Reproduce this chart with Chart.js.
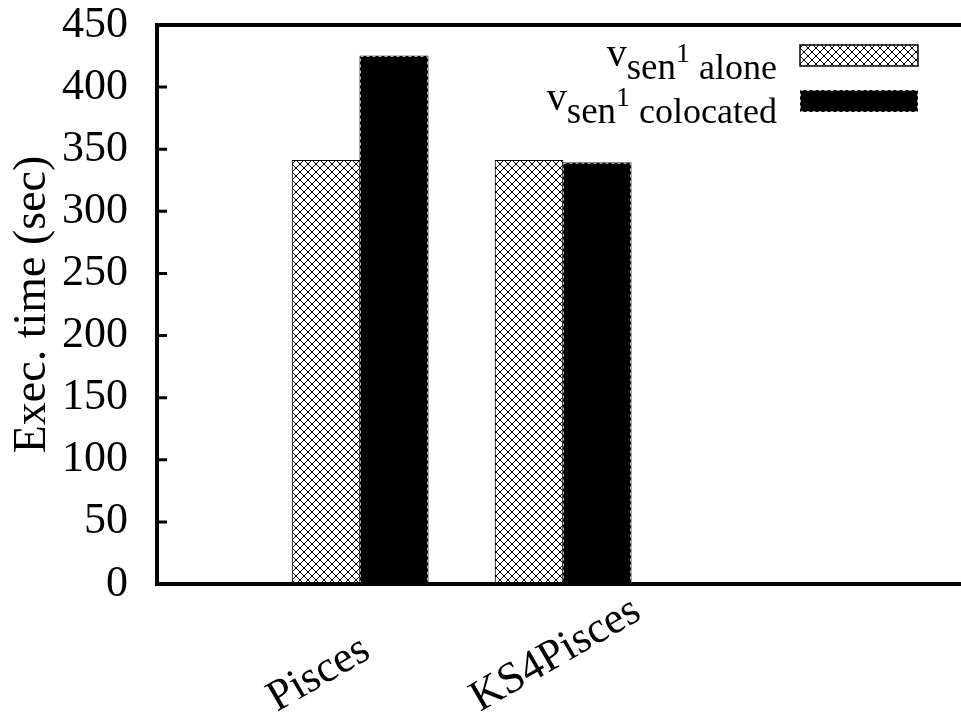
<!DOCTYPE html>
<html><head><meta charset="utf-8">
<script src="https://cdn.jsdelivr.net/npm/chart.js@4/dist/chart.umd.min.js"></script>
<style>html,body{margin:0;padding:0;background:#fff}#wrap{width:961px;height:715px}</style>
</head><body><div id="wrap"><canvas id="c" width="961" height="715"></canvas></div>
<script>
// ---- data ----
const categories = ['Pisces', 'KS4Pisces'];
const aloneValues = [341, 341];
const colocatedValues = [425, 339];
const seriesNames = ['alone', 'colocated'];
const legendPrefix = ['v', 'sen', '1'];
const yTickValues = [0, 50, 100, 150, 200, 250, 300, 350, 400, 450];
const yTitle = 'Exec. time (sec)';

const FONT = "'Liberation Serif', 'Times New Roman', serif";
const canvas = document.getElementById('c');
const ctx = canvas.getContext('2d');

function makeHatch() {
  const c = document.createElement('canvas');
  c.width = 8; c.height = 8;
  const g = c.getContext('2d');
  g.fillStyle = '#fff'; g.fillRect(0, 0, 8, 8);
  g.strokeStyle = '#000'; g.lineWidth = 1;
  g.beginPath();
  g.moveTo(-1, -1); g.lineTo(9, 9);
  g.moveTo(9, -1); g.lineTo(-1, 9);
  g.stroke();
  return ctx.createPattern(c, 'repeat');
}
const hatch = makeHatch();

const framePlugin = {
  id: 'frame',
  afterDatasetsDraw(chart) {
    const c = chart.ctx;
    const meta = chart.getDatasetMeta(1);
    c.save();
    c.strokeStyle = '#bbb'; c.lineWidth = 1; c.setLineDash([3, 3]);
    meta.data.forEach(el => {
      const p = el.getProps(['x', 'y', 'base', 'width'], true);
      c.strokeRect(p.x - p.width / 2 + 0.5, p.y + 0.5, p.width - 1, p.base - p.y - 1);
    });
    c.restore();
  },
  afterDraw(chart) {
    const c = chart.ctx, a = chart.chartArea, W = chart.width;
    const ys = chart.scales.y, xs = chart.scales.x;
    c.save();
    c.strokeStyle = '#000'; c.lineWidth = 4; c.lineCap = 'butt';
    c.beginPath();
    c.moveTo(a.left, a.top); c.lineTo(W, a.top);
    c.moveTo(a.left, a.top - 2); c.lineTo(a.left, a.bottom + 2);
    c.moveTo(a.left - 2, a.bottom); c.lineTo(W, a.bottom);
    c.stroke();
    c.lineWidth = 3;
    c.beginPath();
    yTickValues.forEach(v => {
      const y = ys.getPixelForValue(v);
      c.moveTo(a.left, y); c.lineTo(a.left + 10, y);
    });
    c.stroke();
    c.fillStyle = '#000';
    c.font = '44px ' + FONT;
    c.textAlign = 'left'; c.textBaseline = 'alphabetic';
    categories.forEach((lab, i) => {
      const x = xs.getPixelForValue(i);
      c.save();
      c.translate(x - 83, 712);
      c.rotate(-Math.PI / 6);
      c.fillText(lab, 0, 0);
      c.restore();
    });
    const rows = [{base: 79, box: [800, 45, 118, 21]}, {base: 123, box: [800, 90, 118, 22]}];
    const fV = '40px ' + FONT, fSen = '37px ' + FONT, fOne = '28px ' + FONT, fLab = '36px ' + FONT;
    seriesNames.forEach((name, i) => {
      const r = rows[i];
      const parts = [
        {t: legendPrefix[0], f: fV, dy: -13},
        {t: legendPrefix[1], f: fSen, dy: 0},
        {t: legendPrefix[2], f: fOne, dy: -17},
        {t: ' ' + name, f: fLab, dy: 0}
      ];
      let total = 0;
      parts.forEach(p => { c.font = p.f; p.w = c.measureText(p.t).width; total += p.w; });
      let x = 777 - total;
      parts.forEach(p => { c.font = p.f; c.fillText(p.t, x, r.base + p.dy); x += p.w; });
      const [bx, by, bw, bh] = r.box;
      if (i === 0) {
        c.fillStyle = hatch; c.fillRect(bx, by, bw, bh);
        c.strokeStyle = '#000'; c.lineWidth = 1.5; c.strokeRect(bx, by, bw, bh);
      } else {
        c.fillStyle = '#000'; c.fillRect(bx, by, bw, bh);
        c.strokeStyle = '#bbb'; c.lineWidth = 1; c.setLineDash([3, 3]);
        c.strokeRect(bx + 0.5, by + 0.5, bw - 1, bh - 1); c.setLineDash([]);
      }
      c.fillStyle = '#000';
    });
    c.restore();
  }
};

const xMin = -1, xMax = 2.9606;
new Chart(ctx, {
  type: 'bar',
  data: {
    datasets: [
      {label: seriesNames[0], data: categories.map((c, i) => ({x: i, y: aloneValues[i]})),
       backgroundColor: hatch, borderColor: '#000', borderWidth: 1, barThickness: 68},
      {label: seriesNames[1], data: categories.map((c, i) => ({x: i, y: colocatedValues[i]})),
       backgroundColor: '#000', borderWidth: 0, barThickness: 68}
    ]
  },
  options: {
    responsive: false, animation: false, devicePixelRatio: 1,
    layout: {padding: {left: 0, right: 0, top: 25, bottom: 131}},
    plugins: {legend: {display: false}, tooltip: {enabled: false}},
    scales: {
      x: {type: 'linear', min: xMin, max: xMax, offset: false, display: false, grid: {display: false, offset: false},
          afterBuildTicks(s) { s.ticks = categories.map((c, i) => ({value: i})); }},
      y: {min: 0, max: 450,
          afterBuildTicks(s) { s.ticks = yTickValues.map(v => ({value: v})); },
          afterFit(s) { s.width = 157; },
          grid: {display: true, drawOnChartArea: false, drawTicks: true, tickLength: 29, tickColor: 'rgba(0,0,0,0)'},
          border: {display: false},
          ticks: {color: '#000', padding: 0, font: {family: FONT, size: 44, lineHeight: 1}},
          title: {display: true, text: yTitle, color: '#000', padding: {top: 5, bottom: 0},
                  font: {family: FONT, size: 46, lineHeight: 1.2}}}
    }
  },
  plugins: [framePlugin]
});
</script>
</body></html>
